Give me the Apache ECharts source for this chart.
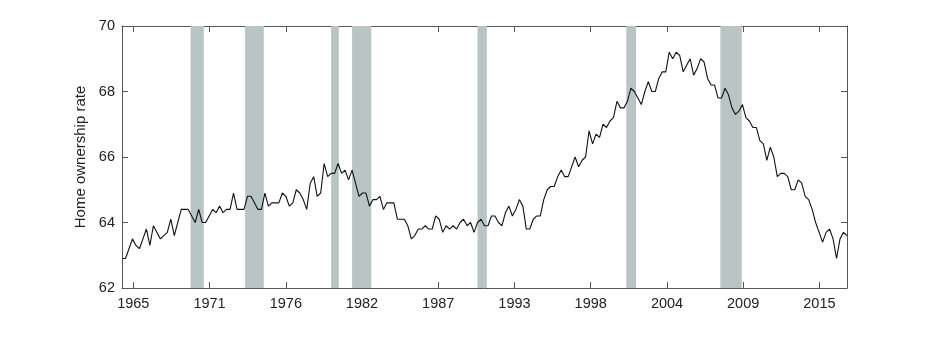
<!DOCTYPE html>
<html>
<head>
<meta charset="utf-8">
<script src="https://cdn.jsdelivr.net/npm/echarts@6/dist/echarts.min.js"></script>
<style>
  html, body { margin: 0; padding: 0; background: #fff; }
  #chart { width: 934px; height: 346px; }
</style>
</head>
<body>
<div id="chart"></div>
<script>
// quarterly home ownership rate, first value is 1965 Q1
var firstYear = 1965
var rate1965 = [
  62.9, 62.9, 63.2, 63.5, 63.3, 63.2, 63.5, 63.8, 63.3, 63.9, 63.7, 63.5,
  63.6, 63.7, 64.1, 63.6, 64.0, 64.4, 64.4, 64.4, 64.2, 64.0, 64.4, 64.0,
  64.0, 64.2, 64.4, 64.3, 64.5, 64.3, 64.4, 64.4, 64.9, 64.4, 64.4, 64.4,
  64.8, 64.8, 64.6, 64.4, 64.4, 64.9, 64.5, 64.6, 64.6, 64.6, 64.9, 64.8,
  64.5, 64.6, 65.0, 64.9, 64.7, 64.4, 65.2, 65.4, 64.8, 64.9, 65.8, 65.4
]
var rate1980 = [
  65.5, 65.5, 65.8, 65.5, 65.6, 65.3, 65.6, 65.2, 64.8, 64.9, 64.9, 64.5,
  64.7, 64.7, 64.8, 64.4, 64.6, 64.6, 64.6, 64.1, 64.1, 64.1, 63.9, 63.5,
  63.6, 63.8, 63.8, 63.9, 63.8, 63.8, 64.2, 64.1, 63.7, 63.9, 63.8, 63.9,
  63.8, 64.0, 64.1, 63.9, 64.0, 63.7, 64.0, 64.1, 63.9, 63.9, 64.2, 64.2,
  64.0, 63.9, 64.3, 64.5, 64.2, 64.4, 64.7, 64.5, 63.8, 63.8, 64.1, 64.2
]
var rate1995 = [
  64.2, 64.7, 65.0, 65.1, 65.1, 65.4, 65.6, 65.4, 65.4, 65.7, 66.0, 65.7,
  65.9, 66.0, 66.8, 66.4, 66.7, 66.6, 67.0, 66.9, 67.1, 67.2, 67.7, 67.5,
  67.5, 67.7, 68.1, 68.0, 67.8, 67.6, 68.0, 68.3, 68.0, 68.0, 68.4, 68.6,
  68.6, 69.2, 69.0, 69.2, 69.1, 68.6, 68.8, 69.0, 68.5, 68.7, 69.0, 68.9,
  68.4, 68.2, 68.2, 67.8, 67.8, 68.1, 67.9, 67.5, 67.3, 67.4, 67.6, 67.2
]
var rate2010 = [
  67.1, 66.9, 66.9, 66.5, 66.4, 65.9, 66.3, 66.0, 65.4, 65.5, 65.5, 65.4,
  65.0, 65.0, 65.3, 65.2, 64.8, 64.7, 64.4, 64.0, 63.7, 63.4, 63.7, 63.8,
  63.5, 62.9, 63.5, 63.7, 63.6
]

// recessions (decimal years)
var recessionStart = [1969.92, 1973.83, 1980.0, 1981.5, 1990.5, 2001.17, 2007.92]
var recessionEnd = [1970.87, 1975.17, 1980.55, 1982.88, 1991.17, 2001.87, 2009.45]

// x tick marks and their labels
var tickValues = [1965.81, 1971.28, 1976.75, 1982.21, 1987.68, 1993.15, 1998.62, 2004.09, 2009.55, 2015.02]
var tickLabels = ['1965', '1971', '1976', '1982', '1987', '1993', '1998', '2004', '2009', '2015']

var rates = rate1965.concat(rate1980, rate1995, rate2010)
var points = rates.map(function (v, i) { return [firstYear + i / 4, v] })
var recessions = recessionStart.map(function (s, i) {
  return [{ xAxis: s }, { xAxis: recessionEnd[i] }]
})

var axisColor = '#555'
var font = 'Liberation Sans, Arial, sans-serif'

var chart = echarts.init(document.getElementById('chart'))
chart.setOption({
  animation: false,
  grid: { left: 122, right: 87, top: 26, bottom: 58 },
  xAxis: [{
    type: 'value',
    min: firstYear,
    max: firstYear + (rates.length - 1) / 4,
    position: 'bottom',
    splitLine: { show: false },
    axisLine: { lineStyle: { color: axisColor, width: 1 } },
    axisTick: { inside: true, length: 6, customValues: tickValues, lineStyle: { color: axisColor } },
    axisLabel: {
      customValues: tickValues,
      margin: 8,
      color: '#222',
      fontFamily: font,
      fontSize: 14.5,
      formatter: function (v) {
        var best = 0
        tickValues.forEach(function (t, i) {
          if (Math.abs(t - v) < Math.abs(tickValues[best] - v)) best = i
        })
        return tickLabels[best]
      }
    }
  }, {
    type: 'value',
    min: firstYear,
    max: firstYear + (rates.length - 1) / 4,
    position: 'top',
    splitLine: { show: false },
    axisLine: { lineStyle: { color: axisColor, width: 1 } },
    axisTick: { inside: true, length: 6, customValues: tickValues, lineStyle: { color: axisColor } },
    axisLabel: { show: false }
  }],
  yAxis: [{
    type: 'value',
    min: 62,
    max: 70,
    interval: 2,
    position: 'left',
    name: 'Home ownership rate',
    nameLocation: 'middle',
    nameGap: 34,
    nameTextStyle: { color: '#222', fontFamily: font, fontSize: 15 },
    splitLine: { show: false },
    axisLine: { show: true, lineStyle: { color: axisColor, width: 1 } },
    axisTick: { show: true, inside: true, length: 6, lineStyle: { color: axisColor } },
    axisLabel: { margin: 7, color: '#222', fontFamily: font, fontSize: 14.5 }
  }, {
    type: 'value',
    min: 62,
    max: 70,
    interval: 2,
    position: 'right',
    splitLine: { show: false },
    axisLine: { show: true, lineStyle: { color: axisColor, width: 1 } },
    axisTick: { show: true, inside: true, length: 6, lineStyle: { color: axisColor } },
    axisLabel: { show: false }
  }],
  series: [{
    type: 'line',
    name: 'recessions',
    data: [],
    z: 1,
    markArea: {
      silent: true,
      itemStyle: { color: '#b9c5c5', opacity: 1 },
      data: recessions
    }
  }, {
    type: 'line',
    name: 'rate',
    data: points,
    z: 5,
    symbol: 'none',
    lineStyle: { color: '#111', width: 1.1 }
  }]
})
</script>
</body>
</html>
